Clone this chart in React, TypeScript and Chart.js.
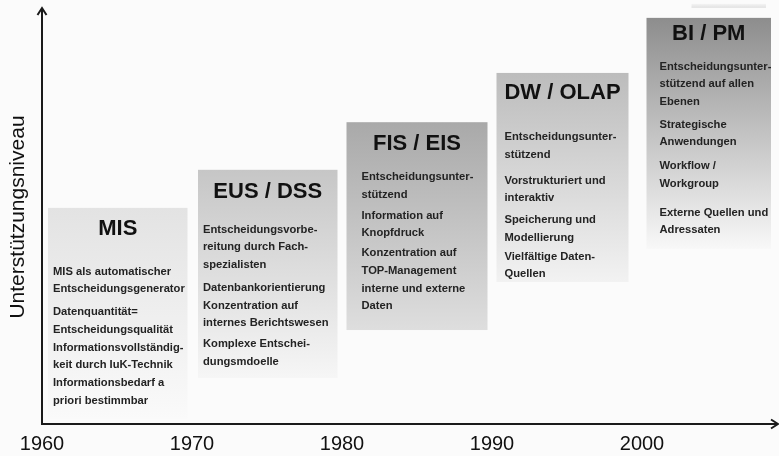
import React, { useEffect, useRef } from 'react';
import { Chart, registerables } from 'chart.js';

Chart.register(...registerables);

// ---- data ----
const yearTicks = [1960, 1970, 1980, 1990, 2000];
const yAxisTitle = 'Unterstützungsniveau';
const systems = ['MIS', 'EUS / DSS', 'FIS / EIS', 'DW / OLAP', 'BI / PM'];
const startYear = [1960.4, 1970.4, 1980.3, 1990.3, 2000.3];
const endYear = [1969.7, 1979.7, 1989.7, 1999.1, 2008.6];
const levelLow = [1.2, 11.1, 22.7, 34.3, 42.3];
const levelHigh = [52.2, 61.4, 72.9, 84.8, 98.1];
const misText = [
  ['MIS als automatischer', 'Entscheidungsgenerator'],
  ['Datenquantität=', 'Entscheidungsqualität'],
  ['Informationsvollständig-', 'keit durch IuK-Technik'],
  ['Informationsbedarf a', 'priori bestimmbar'],
];
const eusText = [
  ['Entscheidungsvorbe-', 'reitung durch Fach-', 'spezialisten'],
  ['Datenbankorientierung'],
  ['Konzentration auf', 'internes Berichtswesen'],
  ['Komplexe Entschei-', 'dungsmdoelle'],
];
const fisText = [
  ['Entscheidungsunter-', 'stützend'],
  ['Information auf', 'Knopfdruck'],
  ['Konzentration auf', 'TOP-Management'],
  ['interne und externe', 'Daten'],
];
const dwText = [
  ['Entscheidungsunter-', 'stützend'],
  ['Vorstrukturiert und', 'interaktiv'],
  ['Speicherung und', 'Modellierung'],
  ['Vielfältige Daten-', 'Quellen'],
];
const biText = [
  ['Entscheidungsunter-', 'stützend auf allen', 'Ebenen'],
  ['Strategische', 'Anwendungen'],
  ['Workflow /', 'Workgroup'],
  ['Externe Quellen und', 'Adressaten'],
];
const descriptions = [misText, eusText, fisText, dwText, biText];

// ---- styles ----
const FONT = '"Liberation Sans", Arial, Helvetica, sans-serif';
const topColors = ['#e3e3e3', '#c6c6c6', '#a9a9a9', '#bcbcbc', '#8d8d8d'];
const bottomColors = ['#fafafa', '#f6f6f6', '#dedede', '#f2f2f2', '#f8f8f8'];
const titleOffset = [21, 22, 21.5, 20.5, 16.5];
const firstLineOffset = [64, 60, 55, 64, 49];
const textIndent = [5, 5, 15, 8, 13];
const paraGaps = [
  [5.5, 0.5, 0.5],
  [5.5, 0.5, 3.5],
  [3.5, 2.5, 0.5],
  [8.5, 4.5, 1.5],
  [5.5, 6.5, 11.5],
];
const LINE_H = 17.5;

const boxesPlugin = {
  id: 'boxes',
  beforeDraw(chart: any) {
    const { ctx, width, height } = chart;
    ctx.save();
    ctx.fillStyle = '#fbfbfb';
    ctx.fillRect(0, 0, width, height);
    ctx.restore();
  },
  afterDatasetsDraw(chart: any) {
    const { ctx } = chart;
    const xs = chart.scales.x;
    const ys = chart.scales.y;
    ctx.save();
    systems.forEach((name, i) => {
      const x0 = xs.getPixelForValue(startYear[i]);
      const x1 = xs.getPixelForValue(endYear[i]);
      const yTop = ys.getPixelForValue(levelHigh[i]);
      const yBot = ys.getPixelForValue(levelLow[i]);
      const g = ctx.createLinearGradient(0, yTop, 0, yBot);
      g.addColorStop(0, topColors[i]);
      g.addColorStop(1, bottomColors[i]);
      ctx.fillStyle = g;
      ctx.fillRect(x0, yTop, x1 - x0, yBot - yTop);

      // title
      ctx.fillStyle = '#111111';
      ctx.font = `bold 22px ${FONT}`;
      ctx.textAlign = 'center';
      ctx.textBaseline = 'middle';
      ctx.fillText(name, (x0 + x1) / 2, yTop + titleOffset[i]);

      // description
      ctx.fillStyle = '#232323';
      ctx.font = `bold 11.2px ${FONT}`;
      ctx.textAlign = 'left';
      let y = yTop + firstLineOffset[i];
      descriptions[i].forEach((para, p) => {
        if (p > 0) y += paraGaps[i][p - 1];
        para.forEach((line) => {
          ctx.fillText(line, x0 + textIndent[i], y);
          y += LINE_H;
        });
      });
    });

    // faint strip above the last box
    const last = systems.length - 1;
    const lx0 = xs.getPixelForValue(startYear[last]);
    const lx1 = xs.getPixelForValue(endYear[last]);
    const lt = ys.getPixelForValue(levelHigh[last]);
    const sg = ctx.createLinearGradient(0, lt - 14, 0, lt - 9);
    sg.addColorStop(0, '#f4f4f4');
    sg.addColorStop(1, '#dcdcdc');
    ctx.fillStyle = sg;
    ctx.fillRect(lx0 + 45, lt - 14, lx1 - lx0 - 50, 4);
    ctx.restore();
  },
  afterDraw(chart: any) {
    const { ctx, chartArea } = chart;
    ctx.save();
    ctx.strokeStyle = '#1a1a1a';
    ctx.lineWidth = 2;
    ctx.lineJoin = 'miter';
    const l = chartArea.left;
    const t = chartArea.top;
    const r = chartArea.right;
    const b = chartArea.bottom;
    // top arrow
    ctx.beginPath();
    ctx.moveTo(l - 4.5, t + 5);
    ctx.lineTo(l, t - 2);
    ctx.lineTo(l + 4.5, t + 5);
    ctx.stroke();
    ctx.beginPath();
    ctx.moveTo(l, t + 1);
    ctx.lineTo(l, t - 1);
    ctx.stroke();
    // right arrow
    ctx.beginPath();
    ctx.moveTo(r - 6, b - 4.5);
    ctx.lineTo(r + 1, b);
    ctx.lineTo(r - 6, b + 4.5);
    ctx.stroke();
    ctx.restore();
  },
};

export default function App() {
  const ref = useRef<HTMLCanvasElement | null>(null);
  useEffect(() => {
    document.body.style.margin = '0';
    const canvas = ref.current;
    if (!canvas) return;
    const chart = new Chart(canvas, {
      type: 'scatter',
      data: { datasets: [{ data: [] }] },
      options: {
        responsive: false,
        animation: false,
        events: [],
        layout: { padding: { left: 0, right: 2, top: 10, bottom: 0 } },
        plugins: { legend: { display: false }, tooltip: { enabled: false } },
        scales: {
          x: {
            type: 'linear',
            min: 1960,
            max: 2009,
            grid: { display: false, drawTicks: false },
            border: { display: true, color: '#1a1a1a', width: 2 },
            afterBuildTicks: (s: any) => {
              s.ticks = yearTicks.map((v) => ({ value: v }));
            },
            ticks: {
              autoSkip: false,
              maxRotation: 0,
              padding: 8,
              color: '#111111',
              font: { family: FONT, size: 20 },
              callback: (v: any) => String(v),
            },
            afterFit: (s: any) => {
              s.height = 32;
            },
          },
          y: {
            type: 'linear',
            min: 0,
            max: 100,
            grid: { display: false, drawTicks: false },
            border: { display: true, color: '#1a1a1a', width: 2 },
            ticks: { display: false },
            title: {
              display: true,
              text: yAxisTitle,
              color: '#111111',
              font: { family: FONT, size: 21 },
              padding: { top: 6, bottom: 0 },
            },
            afterFit: (s: any) => {
              s.width = 42;
            },
          },
        },
      },
      plugins: [boxesPlugin],
    } as any);
    return () => chart.destroy();
  }, []);
  return (
    <div style={{ position: 'absolute', left: 0, top: 0, width: 779, height: 456 }}>
      <canvas ref={ref} width={779} height={456} style={{ width: 779, height: 456 }} />
    </div>
  );
}
